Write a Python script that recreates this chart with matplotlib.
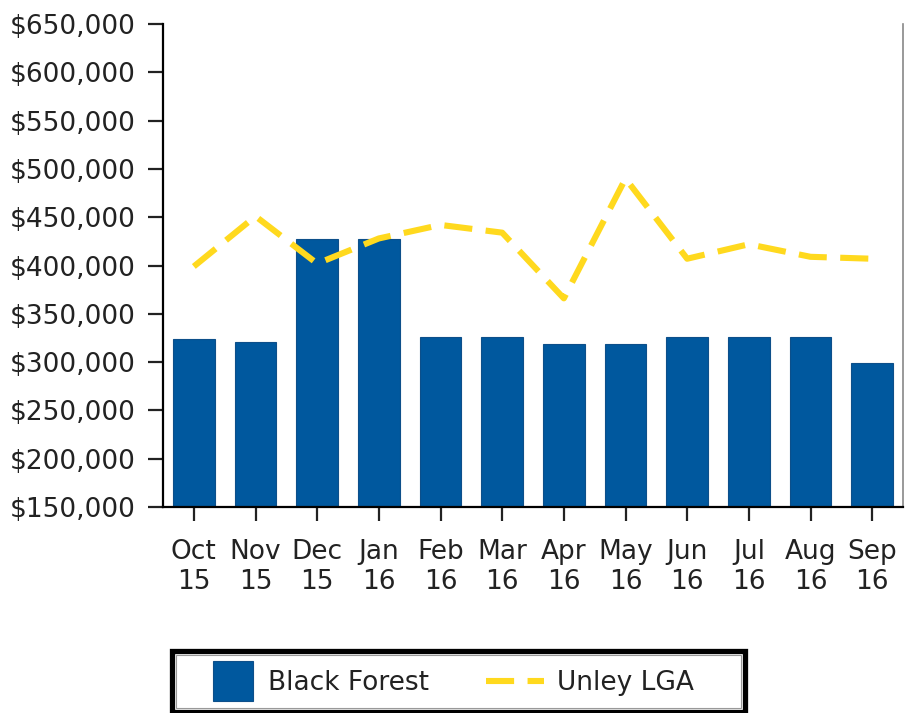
import matplotlib
matplotlib.use("Agg")
import matplotlib.pyplot as plt
from matplotlib.patches import Rectangle
from matplotlib.lines import Line2D
from matplotlib.legend_handler import HandlerPatch
from matplotlib.ticker import FuncFormatter, MultipleLocator

months = ["Oct\n15", "Nov\n15", "Dec\n15", "Jan\n16", "Feb\n16", "Mar\n16",
          "Apr\n16", "May\n16", "Jun\n16", "Jul\n16", "Aug\n16", "Sep\n16"]
black_forest = [324000, 321000, 427000, 427000, 326000, 326000,
                319000, 319000, 326000, 326000, 326000, 299000]
unley_lga = [399000, 451000, 402000, 428000, 442000, 434000,
             366000, 490000, 407000, 422000, 409000, 407000]

BAR = "#00589e"
LINE = "#ffd91e"
FS = 19
W, H = 905, 713

fig = plt.figure(figsize=(W / 100, H / 100), dpi=100)
ax = fig.add_axes([163 / W, 1 - 507 / H, (903 - 163) / W, (507 - 24) / H])

x = list(range(len(months)))
ax.bar(x, black_forest, width=0.68, color=BAR, edgecolor="#0d4f8a", linewidth=0.8,
       zorder=2)
ax.plot(x, unley_lga, color=LINE, linewidth=4.4, dashes=(4.6, 2.2),
        solid_capstyle="butt", dash_capstyle="butt", zorder=3)

ax.set_xlim(-0.5, len(months) - 0.5)
ax.set_ylim(150000, 650000)
ax.yaxis.set_major_locator(MultipleLocator(50000))
ax.yaxis.set_major_formatter(FuncFormatter(lambda v, p: "$" + format(int(v), ",")))
ax.set_xticks(x)
ax.set_xticklabels(months, linespacing=1.2)

ax.spines["top"].set_visible(False)
ax.spines["left"].set_linewidth(1.6)
ax.spines["bottom"].set_linewidth(1.6)
ax.spines["right"].set_color("#888888")
ax.spines["right"].set_linewidth(1.2)

ax.tick_params(axis="y", length=11, width=1.6, pad=9, labelsize=FS, colors="#222222")
ax.tick_params(axis="x", length=10, width=1.6, pad=13, labelsize=FS, colors="#222222")


class SquareHandler(HandlerPatch):
    def create_artists(self, legend, orig_handle, xdescent, ydescent, width, height, fontsize, trans):
        side = fontsize * 1.5
        r = Rectangle((width - side - 1.5, -ydescent + height / 2 - side / 2), side, side,
                      facecolor=BAR, edgecolor="#0d4f8a", linewidth=0.8, transform=trans)
        return [r]


# legend frame (drawn separately to match the reference's padding)
fig.add_artist(Rectangle((172 / W, 1 - 712 / H), (745 - 172) / W, (712 - 651) / H,
                         transform=fig.transFigure, fill=False, edgecolor="black",
                         linewidth=3.8, zorder=5))
fig.add_artist(Rectangle((176 / W, 1 - 708 / H), (741 - 176) / W, (708 - 655) / H,
                         transform=fig.transFigure, fill=False, edgecolor="#999999",
                         linewidth=0.8, zorder=5))

bar_handle = Rectangle((0, 0), 1, 1, facecolor=BAR)
line_handle = Line2D([], [], color=LINE, linewidth=4.4, dashes=(4.6, 2.2),
                     dash_capstyle="butt")
leg = fig.legend([bar_handle, line_handle], ["Black Forest", "Unley LGA"],
                 loc="center left", bbox_to_anchor=(197 / W, 1 - 683 / H),
                 ncol=2, fontsize=FS, frameon=False,
                 handlelength=2.2, handletextpad=0.5, columnspacing=2.15,
                 borderpad=0, borderaxespad=0,
                 handler_map={Rectangle: SquareHandler()})
for t in leg.get_texts():
    t.set_color("#222222")

fig.savefig("out.png", dpi=100)
